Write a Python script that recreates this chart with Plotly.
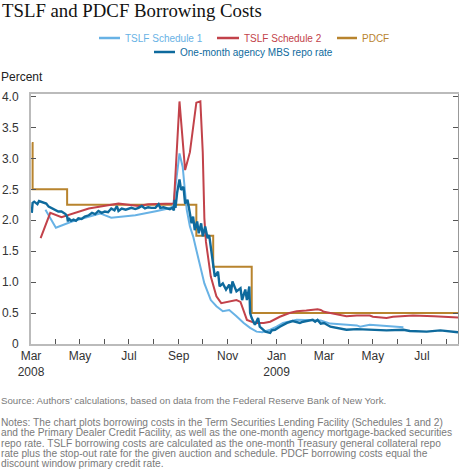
import plotly.graph_objects as go

# ---------------- data ----------------
pdcf_dates = ["2008-03-17", "2008-03-18", "2008-04-30", "2008-10-08", "2008-10-29", "2008-12-16", "2009-08-30"]
pdcf_values = [3.25, 2.50, 2.25, 1.75, 1.25, 0.50, 0.50]

tslf1_dates = ["2008-04-03", "2008-04-16", "2008-05-06", "2008-05-27", "2008-06-10", "2008-06-24", "2008-07-24",
               "2008-08-20", "2008-09-03", "2008-09-09", "2008-09-17", "2008-09-21", "2008-09-26", "2008-09-30",
               "2008-10-04", "2008-10-08", "2008-10-13", "2008-10-18", "2008-10-26", "2008-11-02", "2008-11-10",
               "2008-11-18", "2008-11-27", "2008-12-06", "2008-12-14", "2008-12-22", "2008-12-29", "2009-01-08",
               "2009-01-16", "2009-01-24", "2009-02-10", "2009-02-26", "2009-03-12", "2009-03-24", "2009-04-09",
               "2009-04-26", "2009-04-30", "2009-05-12", "2009-06-02", "2009-06-23"]
tslf1_values = [2.17, 1.88, 1.98, 2.06, 2.11, 2.04, 2.08,
                2.15, 2.19, 2.22, 3.08, 2.86, 2.17, 1.90,
                1.74, 1.52, 1.25, 0.98, 0.71, 0.61, 0.53,
                0.55, 0.45, 0.34, 0.26, 0.20, 0.19, 0.23,
                0.28, 0.34, 0.39, 0.39, 0.38, 0.33, 0.31,
                0.30, 0.28, 0.31, 0.29, 0.27]

tslf2_dates = ["2008-03-28", "2008-04-09", "2008-04-23", "2008-05-27", "2008-07-03", "2008-07-28", "2008-08-09",
               "2008-09-10", "2008-09-17", "2008-09-24", "2008-09-30", "2008-10-08", "2008-10-13", "2008-10-16",
               "2008-10-18", "2008-10-20", "2008-10-26", "2008-11-02", "2008-11-08", "2008-11-27", "2008-12-02",
               "2008-12-10", "2008-12-20", "2008-12-31", "2009-01-08", "2009-01-20", "2009-02-01", "2009-02-10",
               "2009-02-22", "2009-03-08", "2009-03-12", "2009-03-16", "2009-03-24", "2009-04-13", "2009-04-26",
               "2009-05-12", "2009-05-16", "2009-06-02", "2009-06-10", "2009-07-05", "2009-07-31", "2009-08-30"]
tslf2_values = [1.71, 2.12, 2.05, 2.19, 2.27, 2.23, 2.26,
                2.27, 3.92, 2.81, 3.10, 3.90, 3.92, 3.10,
                2.03, 1.65, 1.09, 0.77, 0.66, 0.71, 0.68,
                0.39, 0.34, 0.34, 0.36, 0.44, 0.50, 0.53,
                0.54, 0.56, 0.55, 0.52, 0.50, 0.45, 0.46,
                0.46, 0.44, 0.42, 0.44, 0.46, 0.45, 0.43]

mbs_dates = ["2008-03-17", "2008-03-18", "2008-03-20", "2008-03-24", "2008-03-26", "2008-03-28", "2008-04-01",
             "2008-04-04", "2008-04-07", "2008-04-10", "2008-04-13", "2008-04-16", "2008-04-19", "2008-04-23",
             "2008-04-26", "2008-04-28", "2008-04-30", "2008-05-01", "2008-05-02", "2008-05-05", "2008-05-08",
             "2008-05-11", "2008-05-14", "2008-05-18", "2008-05-22", "2008-05-27", "2008-05-31", "2008-06-04",
             "2008-06-08", "2008-06-12", "2008-06-16", "2008-06-20", "2008-06-24", "2008-06-28", "2008-07-01",
             "2008-07-03", "2008-07-07", "2008-07-12", "2008-07-19", "2008-07-24", "2008-07-28", "2008-08-01",
             "2008-08-05", "2008-08-09", "2008-08-13", "2008-08-18", "2008-08-22", "2008-08-24", "2008-08-28",
             "2008-09-01", "2008-09-05", "2008-09-08", "2008-09-10", "2008-09-11", "2008-09-12", "2008-09-14",
             "2008-09-17", "2008-09-19", "2008-09-22", "2008-09-24", "2008-09-27", "2008-09-30", "2008-10-02",
             "2008-10-04", "2008-10-06", "2008-10-09", "2008-10-11", "2008-10-14", "2008-10-16", "2008-10-19",
             "2008-10-22", "2008-10-24", "2008-10-26", "2008-10-28", "2008-10-31", "2008-11-04", "2008-11-06",
             "2008-11-10", "2008-11-14", "2008-11-18", "2008-11-20", "2008-11-22", "2008-11-27", "2008-12-02",
             "2008-12-04", "2008-12-08", "2008-12-10", "2008-12-13", "2008-12-14", "2008-12-16", "2008-12-20",
             "2008-12-24", "2008-12-26", "2009-01-02", "2009-01-08", "2009-01-10", "2009-01-14", "2009-01-20",
             "2009-01-24", "2009-01-29", "2009-02-05", "2009-02-10", "2009-02-14", "2009-02-18", "2009-02-26",
             "2009-03-02", "2009-03-05", "2009-03-08", "2009-03-12", "2009-03-16", "2009-03-24", "2009-04-01",
             "2009-04-09", "2009-04-13", "2009-04-26", "2009-05-08", "2009-05-16", "2009-06-02", "2009-06-23",
             "2009-07-01", "2009-07-22", "2009-08-08", "2009-08-30"]
mbs_values = [2.12, 2.28, 2.30, 2.26, 2.31, 2.30, 2.28,
              2.27, 2.22, 2.20, 2.18, 2.16, 2.14, 2.14,
              2.12, 2.10, 2.06, 1.98, 2.03, 1.99, 2.01,
              1.99, 2.03, 2.02, 2.06, 2.08, 2.12, 2.10,
              2.15, 2.12, 2.14, 2.13, 2.19, 2.16, 2.23,
              2.15, 2.19, 2.17, 2.20, 2.18, 2.20, 2.23,
              2.19, 2.21, 2.20, 2.20, 2.26, 2.20, 2.21,
              2.19, 2.18, 2.20, 2.16, 2.33, 2.20, 2.44,
              2.66, 2.49, 2.54, 2.27, 2.33, 2.11, 1.95,
              2.06, 1.84, 1.98, 1.79, 1.95, 1.74, 1.90,
              1.71, 1.76, 1.55, 1.41, 1.09, 1.17, 0.93,
              0.98, 0.88, 0.96, 0.82, 1.01, 0.85, 0.90,
              0.71, 0.88, 0.71, 0.93, 0.50, 0.42, 0.31,
              0.42, 0.28, 0.20, 0.18, 0.22, 0.23, 0.28,
              0.31, 0.34, 0.37, 0.36, 0.34, 0.36, 0.38,
              0.39, 0.36, 0.39, 0.33, 0.34, 0.28, 0.26,
              0.23, 0.23, 0.24, 0.23, 0.23, 0.22, 0.23,
              0.21, 0.20, 0.22, 0.19]

x_tick_vals = ["2008-03-16", "2008-04-16", "2008-05-16", "2008-06-16", "2008-07-16", "2008-08-16",
               "2008-09-16", "2008-10-16", "2008-11-16", "2008-12-16", "2009-01-16", "2009-02-16",
               "2009-03-16", "2009-04-16", "2009-05-16", "2009-06-16", "2009-07-16", "2009-08-16"]
x_tick_text = ["Mar<br>2008", "", "May", "", "Jul", "", "Sep", "", "Nov", "", "Jan<br>2009", "",
               "Mar", "", "May", "", "Jul", ""]
y_tick_vals = [0, 0.5, 1.0, 1.5, 2.0, 2.5, 3.0, 3.5, 4.0]
y_tick_text = ["0", "0.5", "1.0", "1.5", "2.0", "2.5", "3.0", "3.5", "4.0"]

series_names = ["TSLF Schedule 1", "TSLF Schedule 2", "PDCF", "One-month agency MBS repo rate"]
colors = {"tslf1": "#68B2E5", "tslf2": "#C2424A", "pdcf": "#B8842E", "mbs": "#0E6A9D"}

# ---------------- figure ----------------
W, H = 460, 472
L, R, T, B = 31, 2, 94, 128
PW, PH = W - L - R, H - T - B

def px(xp):
    return (xp - L) / PW

def py(yp):
    return (H - B - yp) / PH

fig = go.Figure()
fig.add_trace(go.Scatter(x=pdcf_dates, y=pdcf_values, mode="lines", line_shape="hv",
                         line=dict(color=colors["pdcf"], width=2), name=series_names[2], showlegend=False))
fig.add_trace(go.Scatter(x=tslf1_dates, y=tslf1_values, mode="lines",
                         line=dict(color=colors["tslf1"], width=2), name=series_names[0], showlegend=False))
fig.add_trace(go.Scatter(x=tslf2_dates, y=tslf2_values, mode="lines",
                         line=dict(color=colors["tslf2"], width=2), name=series_names[1], showlegend=False))
fig.add_trace(go.Scatter(x=mbs_dates, y=mbs_values, mode="lines",
                         line=dict(color=colors["mbs"], width=2.4), name=series_names[3], showlegend=False))
fig.add_trace(go.Scatter(x=[None], y=[None], yaxis="y2", showlegend=False, hoverinfo="skip"))

fig.update_layout(
    width=W, height=H,
    margin=dict(l=L, r=R, t=T, b=B),
    paper_bgcolor="white", plot_bgcolor="white",
    font=dict(family="Liberation Sans, Arial, sans-serif", color="#333333", size=12),
    xaxis=dict(type="date", range=["2008-03-16", "2009-08-30"], tickmode="array",
               tickvals=x_tick_vals, ticktext=x_tick_text, ticks="inside", ticklen=5,
               tickcolor="#555555", tickwidth=1, showline=True, linecolor="#BBBBBB", linewidth=2,
               mirror=True, showgrid=False, zeroline=False, tickfont=dict(size=12, color="#333333")),
    yaxis=dict(range=[0, 4.04], tickmode="array", tickvals=y_tick_vals, ticktext=y_tick_text,
               ticks="inside", ticklen=5, tickcolor="#555555", tickwidth=1, showline=True,
               linecolor="#BBBBBB", linewidth=2, showgrid=False, zeroline=False,
               ticklabelstandoff=8, tickfont=dict(size=12, color="#333333")),
    yaxis2=dict(range=[0, 4.04], overlaying="y", side="right", tickmode="array", tickvals=y_tick_vals,
                showticklabels=False, ticks="inside", ticklen=5, tickcolor="#555555", tickwidth=1,
                showline=True, linecolor="#999999", linewidth=1, showgrid=False, zeroline=False),
)

# legend (manual)
legend_items = [
    (series_names[0], colors["tslf1"], 99, 120, 38),
    (series_names[1], colors["tslf2"], 217, 239, 38),
    (series_names[2], colors["pdcf"], 337, 357, 38),
    (series_names[3], colors["mbs"], 154, 175, 52),
]
for name, col, x0, x1, yy in legend_items:
    fig.add_shape(type="line", xref="paper", yref="paper", x0=px(x0), x1=px(x1), y0=py(yy), y1=py(yy),
                  line=dict(color=col, width=2.5))
    fig.add_annotation(xref="paper", yref="paper", x=px(x1 + 3), y=py(yy), xanchor="left", yanchor="middle",
                       text=name, showarrow=False, font=dict(size=10, color=col))

# title and labels
fig.add_annotation(xref="paper", yref="paper", x=px(0), y=py(11), xanchor="left", yanchor="middle",
                   text="TSLF and PDCF Borrowing Costs", showarrow=False,
                   font=dict(family="Liberation Serif, Times New Roman, serif", size=18.8, color="#111111"))
fig.add_annotation(xref="paper", yref="paper", x=px(-1), y=py(77), xanchor="left", yanchor="middle",
                   text="Percent", showarrow=False, font=dict(size=12, color="#222222"))

source = "Source: Authors\u2019 calculations, based on data from the Federal Reserve Bank of New York."
notes = [
    "Notes: The chart plots borrowing costs in the Term Securities Lending Facility (Schedules 1 and 2)",
    "and the Primary Dealer Credit Facility, as well as the one-month agency mortgage-backed securities",
    "repo rate. TSLF borrowing costs are calculated as the one-month Treasury general collateral repo",
    "rate plus the stop-out rate for the given auction and schedule. PDCF borrowing costs equal the",
    "discount window primary credit rate.",
]
fig.add_annotation(xref="paper", yref="paper", x=px(-1), y=py(400), xanchor="left", yanchor="middle",
                   text=source, showarrow=False, font=dict(size=9.7, color="#7A7A7A"))
for i, line in enumerate(notes):
    fig.add_annotation(xref="paper", yref="paper", x=px(-1), y=py(422.7 + i * 10.15), xanchor="left",
                       yanchor="middle", text=line, showarrow=False, font=dict(size=10.2, color="#7A7A7A"))

fig.write_html("out.html", config={"displayModeBar": False},
               post_script="document.body.style.margin='0';document.body.style.overflow='hidden';")
